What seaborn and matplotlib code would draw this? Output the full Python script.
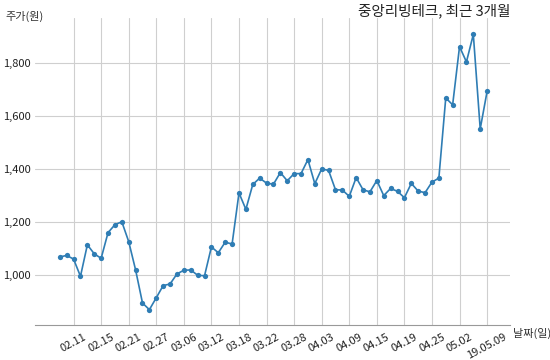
import pandas as pd
import seaborn as sns
import matplotlib.pyplot as plt

# trading days, 2019-02-07 .. 2019-05-09
dates = [
    "02.07", "02.08", "02.11", "02.12", "02.13", "02.14", "02.15", "02.18", "02.19", "02.20",
    "02.21", "02.22", "02.25", "02.26", "02.27", "02.28", "03.04", "03.05", "03.06", "03.07",
    "03.08", "03.11", "03.12", "03.13", "03.14", "03.15", "03.18", "03.19", "03.20", "03.21",
    "03.22", "03.25", "03.26", "03.27", "03.28", "03.29", "04.01", "04.02", "04.03", "04.04",
    "04.05", "04.08", "04.09", "04.10", "04.11", "04.12", "04.15", "04.16", "04.17", "04.18",
    "04.19", "04.22", "04.23", "04.24", "04.25", "04.26", "04.29", "04.30", "05.02", "05.03",
    "05.07", "05.08", "19.05.09",
]

prices = [
    1068, 1074, 1060, 995, 1114, 1080, 1063, 1160, 1190, 1201,
    1126, 1019, 894, 869, 914, 960, 966, 1004, 1018, 1019,
    999, 997, 1106, 1084, 1124, 1117, 1310, 1248, 1342, 1366,
    1347, 1343, 1387, 1356, 1383, 1383, 1436, 1345, 1401, 1395,
    1322, 1321, 1297, 1368, 1322, 1314, 1357, 1300, 1327, 1316,
    1292, 1346, 1317, 1311, 1351, 1366, 1669, 1643, 1863, 1805,
    1909, 1552, 1694,
]

df = pd.DataFrame({"day": range(len(prices)), "price": prices})

sns.set_style("whitegrid")
plt.rcParams["font.family"] = ["Noto Sans CJK KR", "DejaVu Sans"]

fig = plt.figure(figsize=(5.5, 3.6), dpi=100)
ax = fig.add_axes([0.0636, 0.0972, 0.8634, 0.8528])

sns.lineplot(data=df, x="day", y="price", ax=ax, color="#2f7db4",
             marker="o", markersize=3.8, markeredgewidth=0, linewidth=1.2)

# tick every 4th trading day
tick_pos = list(range(2, len(dates), 4))
ax.set_xticks(tick_pos)
ax.set_xticklabels([dates[i] for i in tick_pos], rotation=28, fontsize=8)
ax.set_yticks([1000, 1200, 1400, 1600, 1800])
ax.set_yticklabels(["1,000", "1,200", "1,400", "1,600", "1,800"], fontsize=8)
ax.set_xlim(-3.6, 65.3)
ax.set_ylim(811, 1971)

ax.grid(True, color="#cfcfcf", linewidth=0.8)
for s in ["left", "top", "right"]:
    ax.spines[s].set_visible(False)
ax.spines["bottom"].set_color("#999999")
ax.tick_params(axis="both", length=0, colors="#222222")
ax.tick_params(axis="x", pad=5)
ax.tick_params(axis="y", pad=3)
ax.set_xlabel("")
ax.set_ylabel("")

fig.text(0.01, 0.955, "주가(원)", fontsize=8, color="#333333", va="center")
fig.text(0.928, 0.97, "중앙리빙테크, 최근 3개월", fontsize=10.5, color="#222222",
         ha="right", va="center")
fig.text(0.932, 0.075, "날짜(일)", fontsize=8, color="#333333", va="center")

fig.savefig("out.png", dpi=100)
